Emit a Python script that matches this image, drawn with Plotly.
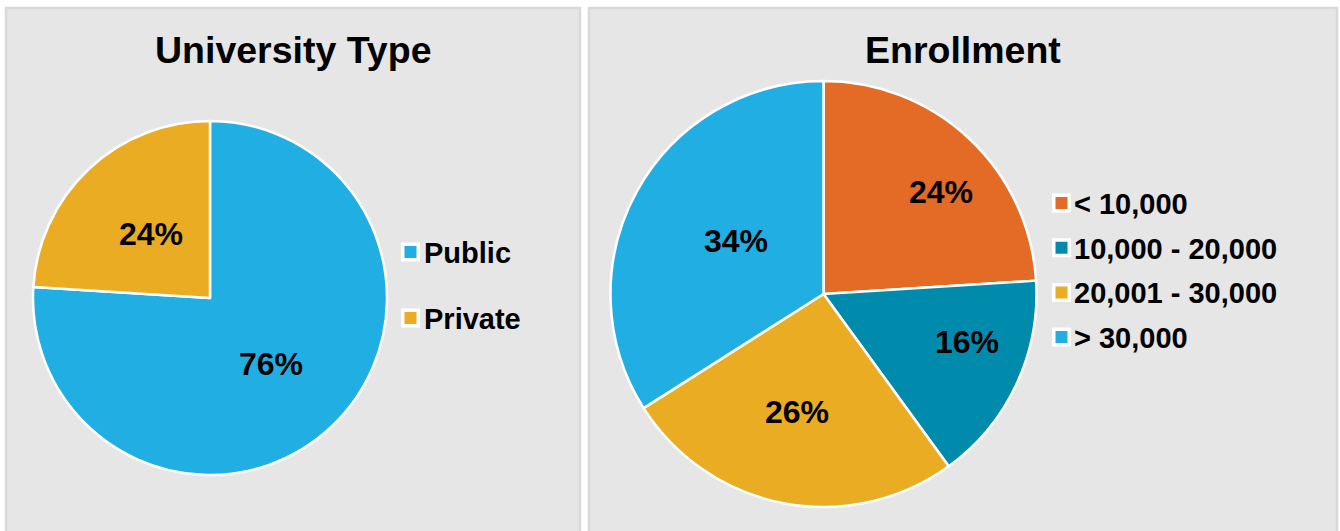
import math
import plotly.graph_objects as go

W, H = 1340, 531

# --- data -----------------------------------------------------------------
type_labels = ["Public", "Private"]
type_values = [76, 24]
type_colors = ["#21AFE3", "#EAAC22"]

enroll_labels = ["< 10,000", "10,000 - 20,000", "20,001 - 30,000", "> 30,000"]
enroll_values = [24, 16, 26, 34]
enroll_colors = ["#E46B25", "#008BAD", "#EAAC22", "#21AFE3"]

titles = ["University Type", "Enrollment"]

FONT = "Liberation Sans, Arial, sans-serif"
PANEL_BG = "#E6E6E6"
PANEL_EDGE = "#D9D9D9"


def px_x(x):
    return x / W


def px_y(y):
    return 1 - y / H


shapes = []
annotations = []

# pie geometry in pixels: centre and radius
left_pie = dict(cx=210, cy=298, r=177)
right_pie = dict(cx=823.5, cy=294, r=213)

# where each percentage label sits: fraction of radius, angular nudge (deg)
left_label_pos = [(0.51, 1.0), (0.49, 0.0)]
right_label_pos = [(0.73, 6.0), (0.71, -6.5), (0.57, 2.0), (0.48, 2.0)]


def add_pie(labels, values, colors, geo):
    cx, cy, r = geo["cx"], geo["cy"], geo["r"]
    return go.Pie(
        labels=labels, values=values, sort=False,
        direction="clockwise", rotation=0,
        marker=dict(colors=colors, line=dict(color="white", width=2.5)),
        textinfo="none",
        domain=dict(x=[px_x(cx - r), px_x(cx + r)],
                    y=[px_y(cy + r), px_y(cy - r)]),
        showlegend=False, hoverinfo="label+percent",
    )


def add_pct_labels(values, geo, placement):
    total = sum(values)
    start = 0.0
    for v, (frac, nudge) in zip(values, placement):
        mid = (start + v / 2) / total * 360 + nudge
        start += v
        a = math.radians(mid)
        x = geo["cx"] + frac * geo["r"] * math.sin(a)
        y = geo["cy"] - frac * geo["r"] * math.cos(a)
        annotations.append(dict(
            text=f"{round(v / total * 100)}%", xref="paper", yref="paper",
            x=px_x(x), y=px_y(y - 0.5), xanchor="center", yanchor="middle",
            showarrow=False,
            font=dict(family=FONT, size=32, color="black", weight="bold"),
        ))


fig = go.Figure()
fig.add_trace(add_pie(type_labels, type_values, type_colors, left_pie))
fig.add_trace(add_pie(enroll_labels, enroll_values, enroll_colors, right_pie))
add_pct_labels(type_values, left_pie, left_label_pos)
add_pct_labels(enroll_values, right_pie, right_label_pos)

# grey panels behind each chart
panels = [(5, 581), (588, 1338)]
for x0, x1 in panels:
    shapes.append(dict(
        type="rect", xref="paper", yref="paper", layer="below",
        x0=px_x(x0 + 1), x1=px_x(x1 - 1), y0=-0.05, y1=px_y(8),
        fillcolor=PANEL_BG, line=dict(color=PANEL_EDGE, width=2.5),
    ))

# panel titles
for (x0, x1), t in zip(panels, titles):
    annotations.append(dict(
        text=t, xref="paper", yref="paper",
        x=px_x((x0 + x1) / 2), y=px_y(50), xanchor="center", yanchor="middle",
        showarrow=False,
        font=dict(family=FONT, size=37.5, color="black", weight="bold"),
    ))


def add_legend(labels, colors, box_x, text_x, y_first, step, size):
    for i, (lab, col) in enumerate(zip(labels, colors)):
        yc = y_first + i * step
        shapes.append(dict(
            type="rect", xref="paper", yref="paper",
            x0=px_x(box_x - 7.75), x1=px_x(box_x + 7.75),
            y0=px_y(yc + 7.75), y1=px_y(yc - 7.75),
            fillcolor=col, line=dict(color="white", width=3.5),
        ))
        annotations.append(dict(
            text=lab, xref="paper", yref="paper",
            x=px_x(text_x), y=px_y(yc + 1), xanchor="left", yanchor="middle",
            showarrow=False,
            font=dict(family=FONT, size=size, color="black", weight="bold"),
        ))


add_legend(type_labels, type_colors, 410.5, 422, 252, 66, 29)
add_legend(enroll_labels, enroll_colors, 1061.5, 1072, 203, 44.7, 29)

fig.update_layout(
    width=W, height=H,
    margin=dict(l=0, r=0, t=0, b=0),
    paper_bgcolor="white", plot_bgcolor="white",
    shapes=shapes, annotations=annotations,
    showlegend=False,
)

fig.write_html("out.html")
